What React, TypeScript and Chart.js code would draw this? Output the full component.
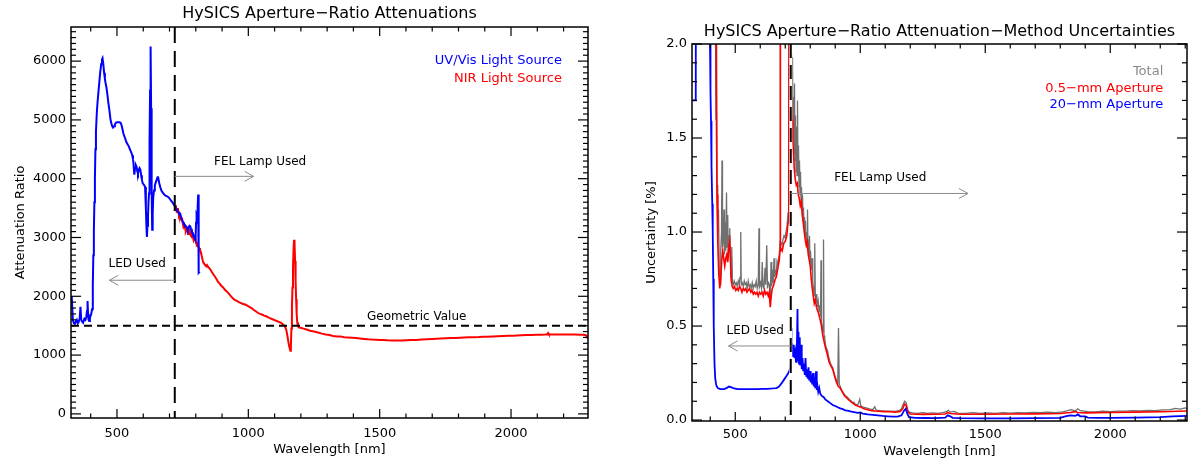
import React, { useEffect, useRef } from "react";
import { Chart, registerables } from "chart.js";
Chart.register(...registerables);

const FONT = '"DejaVu Sans", "Liberation Sans", sans-serif';

// ---------- tick labels ----------
const leftXTicks = [500, 1000, 1500, 2000];
const leftYTicks = [0, 1000, 2000, 3000, 4000, 5000, 6000];
const rightXTicks = [500, 1000, 1500, 2000];
const rightYTicks = [0, 0.5, 1.0, 1.5, 2.0];
const rightYTickLabels = ["0.0", "0.5", "1.0", "1.5", "2.0"];

// ---------- left chart: attenuation ratio [wavelength nm, ratio] ----------
const uvVisSource: [number, number][] = [
  [325, 2000], [328, 1980], [332, 1600], [336, 1540], [340, 1530], [344, 1580], [347, 1600], [351, 1540],
  [354, 1560], [358, 1620], [361, 1820], [364, 1600], [367, 1570], [371, 1550], [376, 1620], [380, 1600],
  [383, 1640], [386, 1750], [388, 1920], [390, 1700], [392, 1600], [394, 1580], [397, 1630], [399, 1660],
  [402, 1700], [405, 1780], [408, 2200], [410, 2700], [412, 3100], [414, 3600], [416, 4000], [418, 4500],
  [420, 4800], [423, 5100], [426, 5300], [429, 5450], [432, 5600], [436, 5800], [440, 5950], [443, 6030],
  [445, 6050], [448, 5950], [451, 5800], [454, 5700], [456, 5640], [460, 5550], [463, 5450], [467, 5300],
  [471, 5170], [475, 5020], [478, 4950], [482, 4890], [485, 4870], [489, 4890], [492, 4920], [496, 4950],
  [500, 4960], [504, 4960], [509, 4960], [514, 4950], [518, 4900], [522, 4820], [525, 4760], [530, 4700],
  [536, 4620], [541, 4580], [545, 4550], [551, 4480], [555, 4440], [558, 4400], [561, 4330], [563, 4250],
  [566, 4070], [569, 4180], [572, 4230], [575, 4200], [577, 4130], [580, 4090], [583, 4150], [586, 4180],
  [589, 4150], [592, 4060], [595, 3980], [598, 3920], [602, 3900], [605, 3880], [607, 3860], [610, 3500],
  [612, 3200], [614, 3010], [616, 3200], [618, 3350], [620, 3600], [622, 3750], [624, 4600], [626, 5500],
  [628, 6250], [630, 5200], [632, 3800], [634, 3130], [636, 3400], [638, 3680], [641, 3800], [644, 3880],
  [647, 3930], [651, 3980], [654, 4020], [656, 4040], [659, 3970], [662, 3900], [666, 3840], [670, 3790],
  [675, 3760], [680, 3730], [685, 3710], [691, 3700], [697, 3680], [702, 3650], [707, 3620], [711, 3600],
  [716, 3560], [720, 3530], [724, 3500], [729, 3460], [734, 3430], [738, 3390], [741, 3400], [745, 3330],
  [748, 3290], [752, 3260], [755, 3230], [759, 3210], [763, 3190], [767, 3160], [770, 3130], [773, 3170],
  [776, 3200], [779, 3190], [782, 3140], [785, 3100], [789, 3070], [792, 3030], [795, 3000], [799, 2960],
  [801, 3250], [803, 3400], [805, 3380], [807, 3500], [809, 3730], [810, 3300], [811, 2800], [812, 2400],
  [815, 2420],
];

const nirSource: [number, number][] = [
  [720, 3470], [722, 3520], [724, 3550], [726, 3480], [728, 3420], [730, 3480], [732, 3500], [734, 3420],
  [736, 3380], [738, 3400], [741, 3330], [744, 3300], [747, 3340], [750, 3250], [753, 3180], [756, 3210],
  [759, 3170], [762, 3100], [765, 3130], [768, 3150], [771, 3060], [774, 3090], [777, 3120], [780, 3040],
  [783, 3020], [786, 3080], [789, 3010], [792, 2950], [795, 2980], [798, 2990], [801, 2900], [804, 2880],
  [807, 2900], [810, 2840], [813, 2820], [816, 2780], [819, 2760], [822, 2700], [825, 2640], [828, 2580],
  [831, 2560], [834, 2540], [837, 2530], [840, 2510], [843, 2530], [847, 2500], [851, 2480], [855, 2460],
  [860, 2420], [866, 2380], [872, 2340], [878, 2300], [884, 2250], [890, 2220], [897, 2180], [904, 2150],
  [911, 2110], [918, 2080], [925, 2050], [932, 2010], [940, 1970], [948, 1940], [956, 1920], [964, 1900],
  [972, 1885], [980, 1870], [988, 1860], [996, 1840], [1004, 1820], [1012, 1800], [1020, 1770], [1028, 1745],
  [1036, 1720], [1044, 1700], [1052, 1690], [1060, 1670], [1068, 1660], [1076, 1640], [1084, 1625], [1092, 1610],
  [1100, 1595], [1108, 1580], [1116, 1565], [1124, 1550], [1130, 1530], [1136, 1505], [1141, 1470], [1145, 1420],
  [1149, 1320], [1153, 1210], [1157, 1120], [1160, 1075], [1162, 1150], [1164, 1450], [1166, 1800], [1168, 2150],
  [1170, 2500], [1172, 2780], [1174, 2960], [1176, 2900], [1178, 2600], [1180, 2250], [1182, 1950], [1184, 1700],
  [1186, 1560], [1189, 1490], [1193, 1470], [1200, 1465], [1210, 1450], [1222, 1435], [1235, 1415], [1250, 1400],
  [1265, 1385], [1280, 1365], [1295, 1350], [1309, 1340], [1323, 1325], [1338, 1315], [1350, 1318], [1365, 1305],
  [1380, 1300], [1396, 1296], [1410, 1290], [1425, 1283], [1440, 1275], [1455, 1268], [1470, 1264], [1485, 1262],
  [1500, 1258], [1513, 1256], [1530, 1252], [1550, 1250], [1570, 1249], [1586, 1250], [1600, 1252], [1620, 1255],
  [1640, 1258], [1659, 1264], [1680, 1270], [1700, 1274], [1716, 1278], [1732, 1282], [1750, 1285], [1770, 1290],
  [1790, 1292], [1805, 1296], [1820, 1298], [1840, 1302], [1860, 1304], [1878, 1306], [1895, 1310], [1910, 1312],
  [1930, 1316], [1950, 1320], [1970, 1324], [1990, 1328], [2008, 1330], [2023, 1334], [2040, 1338], [2060, 1340],
  [2078, 1342], [2096, 1345], [2115, 1348], [2130, 1350], [2138, 1352], [2141, 1375], [2144, 1352], [2160, 1350],
  [2180, 1352], [2200, 1352], [2220, 1350], [2242, 1350], [2260, 1348], [2275, 1345], [2285, 1338], [2289, 1310],
  [2293, 1280],
];

// ---------- right chart: uncertainties [wavelength nm, %] ----------
const totalUnc: [number, number][] = [
  [327, 6], [416, 6], [419, 3], [421, 2.1], [423, 1.6], [425, 2.4], [427, 1.25], [430, 1.0], [433, 1.12],
  [436, 0.8], [439, 0.72], [442, 0.9], [445, 1.0], [447, 1.38], [449, 0.92], [452, 0.95], [455, 1.12],
  [457, 0.88], [460, 1.05], [462, 0.9], [465, 1.21], [467, 0.92], [470, 1.09], [472, 0.86], [475, 0.98],
  [478, 1.02], [480, 0.9], [483, 0.76], [486, 0.92], [489, 0.73], [492, 0.72], [496, 0.74], [500, 0.72],
  [504, 0.73], [508, 0.71], [512, 0.74], [516, 0.72], [519, 0.76], [522, 1.0], [524, 0.72], [528, 0.73],
  [532, 0.71], [536, 0.74], [540, 0.72], [544, 0.73], [548, 0.7], [552, 0.74], [556, 0.71], [560, 0.72],
  [564, 0.7], [568, 0.73], [572, 0.7], [576, 0.72], [580, 0.71], [584, 0.74], [588, 0.7], [592, 0.72],
  [595, 1.02], [597, 0.71], [601, 0.73], [605, 0.7], [608, 0.84], [611, 0.71], [615, 0.7], [619, 0.81],
  [622, 0.72], [626, 0.93], [629, 0.7], [633, 0.73], [637, 0.72], [640, 0.62], [643, 0.84], [646, 0.71],
  [649, 0.8], [652, 0.73], [655, 0.86], [658, 0.76], [661, 0.79], [664, 0.78], [667, 0.84], [670, 0.82],
  [673, 0.86], [676, 0.88], [679, 0.95], [680, 2.6], [681, 0.95], [687, 0.93], [691, 0.96], [695, 0.98],
  [699, 0.97], [703, 1.0], [707, 1.03], [711, 1.1], [714, 1.4], [716, 2.6], [719, 2.6], [721, 2.0],
  [723, 1.8], [725, 1.95], [727, 1.65], [729, 1.93], [731, 1.5], [733, 1.72], [735, 1.42], [737, 1.79],
  [739, 1.38], [741, 1.62], [743, 1.32], [745, 1.56], [747, 1.3], [749, 1.7], [751, 1.3], [753, 1.46],
  [755, 1.24], [757, 1.38], [759, 1.2], [761, 1.32], [763, 1.16], [765, 1.24], [767, 1.12], [769, 1.2],
  [771, 1.06], [773, 1.13], [775, 1.02], [777, 1.08], [779, 0.98], [781, 1.06], [783, 0.95], [785, 1.0],
  [787, 0.92], [789, 1.12], [791, 0.9], [793, 0.96], [795, 0.87], [797, 0.98], [799, 0.84], [801, 0.9],
  [804, 0.8], [807, 0.86], [810, 0.74], [813, 0.7], [816, 0.66], [818, 0.94], [820, 0.68], [823, 0.63],
  [826, 0.67], [829, 0.6], [832, 0.63], [835, 0.58], [838, 0.61], [841, 0.55], [843, 0.85], [845, 0.52],
  [848, 0.5], [851, 0.47], [853, 0.96], [855, 0.45], [858, 0.43], [861, 0.4], [865, 0.38], [869, 0.37],
  [873, 0.34], [877, 0.32], [881, 0.3], [885, 0.29], [890, 0.28], [895, 0.25], [900, 0.23], [905, 0.21],
  [910, 0.2], [913, 0.49], [916, 0.19], [920, 0.18], [925, 0.16], [930, 0.15], [935, 0.14], [940, 0.13],
  [945, 0.125], [950, 0.12], [955, 0.11], [960, 0.105], [965, 0.1], [970, 0.09], [975, 0.095], [980, 0.085],
  [990, 0.08], [998, 0.11], [1002, 0.075], [1010, 0.07], [1020, 0.066], [1030, 0.062], [1040, 0.058],
  [1050, 0.055], [1058, 0.07], [1064, 0.053], [1080, 0.05], [1100, 0.048], [1120, 0.047], [1140, 0.046],
  [1155, 0.05], [1165, 0.06], [1172, 0.085], [1178, 0.1], [1184, 0.09], [1190, 0.055], [1196, 0.042],
  [1210, 0.038], [1230, 0.036], [1250, 0.04], [1270, 0.035], [1290, 0.038], [1310, 0.036], [1330, 0.04],
  [1345, 0.045], [1352, 0.052], [1360, 0.042], [1375, 0.046], [1390, 0.037], [1420, 0.036], [1450, 0.039],
  [1480, 0.035], [1510, 0.038], [1540, 0.036], [1570, 0.039], [1600, 0.037], [1630, 0.04], [1660, 0.038],
  [1690, 0.041], [1720, 0.039], [1750, 0.042], [1780, 0.04], [1810, 0.044], [1830, 0.05], [1845, 0.055],
  [1860, 0.048], [1870, 0.06], [1880, 0.05], [1895, 0.047], [1910, 0.045], [1940, 0.044], [1970, 0.047],
  [2000, 0.045], [2030, 0.048], [2060, 0.047], [2090, 0.05], [2120, 0.049], [2150, 0.052], [2180, 0.05],
  [2210, 0.054], [2240, 0.055], [2260, 0.062], [2280, 0.058], [2300, 0.065], [2307, 0.06],
];

const smallApertureUnc: [number, number][] = [
  [327, 6], [418, 6], [422, 3], [424, 1.75], [427, 1.2], [430, 0.95], [434, 0.78], [438, 0.7], [442, 0.75],
  [446, 0.85], [450, 0.9], [454, 0.86], [458, 0.82], [462, 0.86], [466, 0.88], [470, 0.84], [474, 0.92],
  [478, 0.95], [481, 0.84], [484, 0.74], [488, 0.71], [492, 0.7], [497, 0.71], [502, 0.69], [507, 0.7],
  [512, 0.69], [517, 0.71], [522, 0.7], [527, 0.68], [532, 0.7], [537, 0.69], [542, 0.7], [547, 0.68],
  [552, 0.69], [557, 0.7], [562, 0.68], [567, 0.69], [572, 0.67], [577, 0.68], [582, 0.67], [587, 0.68],
  [592, 0.66], [597, 0.68], [602, 0.67], [607, 0.68], [612, 0.66], [617, 0.69], [622, 0.67], [627, 0.68],
  [632, 0.66], [636, 0.68], [640, 0.6], [644, 0.66], [648, 0.7], [652, 0.71], [656, 0.73], [660, 0.75],
  [664, 0.76], [668, 0.79], [672, 0.82], [676, 0.85], [679, 0.9], [680, 2.6], [681, 0.92], [688, 0.9],
  [694, 0.94], [700, 0.95], [706, 0.98], [711, 1.05], [714, 1.3], [716, 2.6], [719, 2.6], [721, 1.8],
  [724, 1.72], [727, 1.6], [730, 1.5], [733, 1.42], [736, 1.34], [740, 1.28], [744, 1.25], [748, 1.26],
  [752, 1.2], [756, 1.18], [760, 1.14], [764, 1.16], [768, 1.09], [772, 1.05], [776, 1.0], [780, 0.96],
  [784, 0.93], [788, 0.95], [792, 0.88], [796, 0.85], [800, 0.82], [804, 0.75], [808, 0.7], [812, 0.66],
  [816, 0.62], [820, 0.64], [825, 0.6], [830, 0.58], [835, 0.56], [840, 0.53], [845, 0.5], [850, 0.45],
  [855, 0.42], [860, 0.39], [868, 0.35], [875, 0.31], [882, 0.29], [890, 0.27], [898, 0.23], [905, 0.2],
  [912, 0.18], [920, 0.17], [928, 0.15], [936, 0.13], [944, 0.12], [952, 0.11], [960, 0.1], [970, 0.09],
  [980, 0.08], [990, 0.075], [1000, 0.07], [1015, 0.06], [1030, 0.055], [1045, 0.05], [1060, 0.048],
  [1080, 0.046], [1100, 0.045], [1120, 0.044], [1140, 0.042], [1160, 0.045], [1170, 0.06], [1177, 0.085],
  [1183, 0.08], [1190, 0.045], [1200, 0.032], [1250, 0.03], [1300, 0.031], [1340, 0.032], [1350, 0.04],
  [1360, 0.035], [1400, 0.031], [1500, 0.031], [1600, 0.032], [1700, 0.033], [1800, 0.035], [1840, 0.04],
  [1860, 0.045], [1870, 0.04], [1900, 0.038], [2000, 0.04], [2100, 0.042], [2200, 0.044], [2307, 0.048],
];

const largeApertureUnc: [number, number][] = [
  [327, 1.7], [342, 1.7], [343, 3], [397, 3], [399, 2.0], [401, 1.74], [403, 1.59], [405, 1.35], [408, 1.15],
  [410, 1.0], [412, 0.75], [414, 0.5], [417, 0.3], [420, 0.22], [424, 0.185], [430, 0.17], [440, 0.165],
  [455, 0.165], [465, 0.17], [475, 0.178], [485, 0.174], [495, 0.168], [510, 0.165], [530, 0.164],
  [550, 0.164], [570, 0.165], [590, 0.165], [610, 0.166], [630, 0.166], [650, 0.168], [665, 0.17],
  [675, 0.178], [685, 0.195], [695, 0.215], [703, 0.23], [710, 0.245], [716, 0.26], [720, 0.28], [722, 0.45],
  [723, 0.49], [725, 0.36], [728, 0.38], [731, 0.34], [734, 0.4], [737, 0.33], [740, 0.36], [743, 0.31],
  [746, 0.35], [749, 0.59], [751, 0.32], [753, 0.47], [755, 0.3], [758, 0.44], [760, 0.29], [763, 0.4],
  [766, 0.27], [769, 0.33], [772, 0.26], [775, 0.3], [778, 0.24], [781, 0.33], [784, 0.23], [787, 0.27],
  [790, 0.22], [793, 0.28], [796, 0.21], [799, 0.26], [802, 0.2], [805, 0.24], [808, 0.19], [811, 0.25],
  [814, 0.18], [817, 0.2], [820, 0.17], [823, 0.26], [826, 0.16], [829, 0.18], [832, 0.15], [836, 0.17],
  [840, 0.14], [845, 0.13], [850, 0.125], [855, 0.12], [860, 0.11], [870, 0.1], [880, 0.09], [890, 0.08],
  [900, 0.075], [910, 0.068], [920, 0.062], [930, 0.058], [940, 0.052], [950, 0.05], [960, 0.046],
  [975, 0.042], [990, 0.038], [1000, 0.04], [1010, 0.034], [1030, 0.03], [1050, 0.028], [1070, 0.025],
  [1090, 0.022], [1110, 0.02], [1130, 0.018], [1150, 0.018], [1165, 0.025], [1175, 0.05], [1182, 0.06],
  [1188, 0.035], [1195, 0.015], [1220, 0.012], [1260, 0.011], [1300, 0.01], [1340, 0.013], [1350, 0.025],
  [1360, 0.02], [1370, 0.012], [1400, 0.01], [1500, 0.009], [1600, 0.009], [1700, 0.01], [1800, 0.012],
  [1820, 0.02], [1840, 0.025], [1860, 0.022], [1870, 0.03], [1880, 0.02], [1900, 0.02], [1910, 0.013],
  [1950, 0.012], [2000, 0.012], [2100, 0.013], [2200, 0.016], [2250, 0.02], [2307, 0.022],
];

// ---------- drawing helpers ----------
type TextItem = { x: number; y: number; text: string; color?: string; align?: CanvasTextAlign; size?: number };
type Arrow = { x1: number; x2: number; y: number };
type RefLine = { v: number; dash: number[]; width: number; underlay?: boolean };

type FrameCfg = {
  title: string;
  titleOffset: number;
  xTitle: string;
  yTitle: string;
  xTicks: number[];
  xTickLabels: string[];
  yTicks: number[];
  yTickLabels: string[];
  xMajor: number;
  xMinor: number;
  yMajor: number;
  yMinor: number;
  xLabelOffset: number;
  xTitleOffset: number;
  yTitleOffset: number;
  vLines: RefLine[];
  hLines: RefLine[];
  arrows: Arrow[];
  texts: TextItem[];
};

function makeFramePlugin(cfg: FrameCfg) {
  return {
    id: "idlFrame",
    afterDatasetsDraw(chart: any) {
      const { ctx, chartArea: a } = chart;
      const xs = chart.scales.x;
      const ys = chart.scales.y;
      const X = (v: number) => xs.getPixelForValue(v);
      const Y = (v: number) => ys.getPixelForValue(v);
      const seg = (x1: number, y1: number, x2: number, y2: number) => {
        ctx.beginPath();
        ctx.moveTo(x1, y1);
        ctx.lineTo(x2, y2);
        ctx.stroke();
      };
      ctx.save();

      // reference dashed lines
      for (const l of cfg.vLines) {
        const px = X(l.v);
        if (l.underlay) {
          ctx.setLineDash([]);
          ctx.strokeStyle = "#ffffff";
          ctx.lineWidth = l.width + 1;
          seg(px, a.top, px, a.bottom);
        }
        ctx.setLineDash(l.dash);
        ctx.strokeStyle = "#000000";
        ctx.lineWidth = l.width;
        seg(px, a.top, px, a.bottom);
      }
      for (const l of cfg.hLines) {
        const py = Y(l.v);
        ctx.setLineDash(l.dash);
        ctx.strokeStyle = "#000000";
        ctx.lineWidth = l.width;
        seg(a.left, py, a.right, py);
      }
      ctx.setLineDash([]);

      // arrows
      ctx.strokeStyle = "#8a8a8a";
      ctx.lineWidth = 1;
      for (const ar of cfg.arrows) {
        const p1 = X(ar.x1);
        const p2 = X(ar.x2);
        const py = Y(ar.y);
        seg(p1, py, p2, py);
        const d = p2 > p1 ? 1 : -1;
        ctx.beginPath();
        ctx.moveTo(p2 - d * 9, py - 5);
        ctx.lineTo(p2, py);
        ctx.lineTo(p2 - d * 9, py + 5);
        ctx.stroke();
      }

      // annotation texts / legend
      ctx.textBaseline = "middle";
      for (const t of cfg.texts) {
        ctx.font = `${t.size ?? 12}px ${FONT}`;
        ctx.fillStyle = t.color ?? "#000000";
        ctx.textAlign = t.align ?? "center";
        ctx.fillText(t.text, X(t.x), Y(t.y));
      }

      // frame
      ctx.strokeStyle = "#000000";
      ctx.lineWidth = 1.5;
      ctx.strokeRect(a.left, a.top, a.right - a.left, a.bottom - a.top);

      // ticks (inward on all four sides)
      ctx.lineWidth = 1.2;
      const isMajor = (v: number, m: number) => Math.abs(v / m - Math.round(v / m)) < 1e-6;
      const xStart = Math.ceil(xs.min / cfg.xMinor - 1e-9) * cfg.xMinor;
      for (let i = 0; ; i++) {
        const v = xStart + i * cfg.xMinor;
        if (v > xs.max + 1e-9) break;
        const px = X(v);
        const len = isMajor(v, cfg.xMajor) ? 9 : 4.5;
        seg(px, a.bottom, px, a.bottom - len);
        seg(px, a.top, px, a.top + len);
      }
      const yStart = Math.ceil(ys.min / cfg.yMinor - 1e-9) * cfg.yMinor;
      for (let i = 0; ; i++) {
        const v = yStart + i * cfg.yMinor;
        if (v > ys.max + 1e-9) break;
        const py = Y(v);
        const len = isMajor(v, cfg.yMajor) ? 10 : 5;
        seg(a.left, py, a.left + len, py);
        seg(a.right, py, a.right - len, py);
      }

      // tick labels
      ctx.fillStyle = "#000000";
      ctx.font = `13px ${FONT}`;
      ctx.textAlign = "center";
      ctx.textBaseline = "middle";
      cfg.xTicks.forEach((v, i) => ctx.fillText(cfg.xTickLabels[i], X(v), a.bottom + cfg.xLabelOffset));
      ctx.textAlign = "right";
      cfg.yTicks.forEach((v, i) => ctx.fillText(cfg.yTickLabels[i], a.left - 5, Y(v)));

      // axis titles
      ctx.textAlign = "center";
      ctx.fillText(cfg.xTitle, (a.left + a.right) / 2, a.bottom + cfg.xTitleOffset);
      ctx.save();
      ctx.translate(a.left - cfg.yTitleOffset, (a.top + a.bottom) / 2);
      ctx.rotate(-Math.PI / 2);
      ctx.fillText(cfg.yTitle, 0, 0);
      ctx.restore();

      // chart title
      ctx.font = `16px ${FONT}`;
      ctx.fillText(cfg.title, (a.left + a.right) / 2, a.top - cfg.titleOffset);

      ctx.restore();
    },
  };
}

function series(points: [number, number][], color: string, width: number, label: string) {
  return {
    label,
    data: points.map(([x, y]) => ({ x, y })),
    borderColor: color,
    backgroundColor: color,
    borderWidth: width,
    pointRadius: 0,
    tension: 0,
    fill: false,
    clip: 0,
  };
}

function useChart(ref: React.RefObject<HTMLCanvasElement>, build: () => any) {
  useEffect(() => {
    if (!ref.current) return;
    const chart = new Chart(ref.current, build());
    return () => chart.destroy();
  }, []);
}

const BLUE = "#0000ff";
const RED = "#ff0000";
const GRAY = "#707070";

function leftConfig() {
  return {
    type: "line",
    data: {
      datasets: [
        series(uvVisSource, BLUE, 2, "UV/Vis Light Source"),
        series(nirSource, RED, 2, "NIR Light Source"),
      ],
    },
    options: {
      responsive: false,
      animation: false,
      events: [],
      layout: { padding: { left: 71, right: 12, top: 27, bottom: 46 } },
      plugins: { legend: { display: false }, tooltip: { enabled: false }, title: { display: false } },
      scales: {
        x: { type: "linear", min: 325, max: 2293, display: false },
        y: { type: "linear", min: -70, max: 6580, display: false },
      },
    },
    plugins: [
      makeFramePlugin({
        title: "HySICS Aperture\u2212Ratio Attenuations",
        titleOffset: 13,
        xTitle: "Wavelength [nm]",
        yTitle: "Attenuation Ratio",
        xTicks: leftXTicks,
        xTickLabels: leftXTicks.map(String),
        yTicks: leftYTicks,
        yTickLabels: leftYTicks.map(String),
        xMajor: 500,
        xMinor: 100,
        yMajor: 1000,
        yMinor: 100,
        xLabelOffset: 16,
        xTitleOffset: 32,
        yTitleOffset: 50,
        vLines: [{ v: 720, dash: [16, 8], width: 2 }],
        hLines: [{ v: 1500, dash: [8, 5], width: 2 }],
        arrows: [
          { x1: 720, x2: 1020, y: 4040 },
          { x1: 720, x2: 471, y: 2273 },
        ],
        texts: [
          { x: 1045, y: 4287, text: "FEL Lamp Used" },
          { x: 577, y: 2545, text: "LED Used" },
          { x: 1641, y: 1648, text: "Geometric Value" },
          { x: 2194, y: 6000, text: "UV/Vis Light Source", color: BLUE, align: "right", size: 13 },
          { x: 2194, y: 5700, text: "NIR Light Source", color: RED, align: "right", size: 13 },
        ],
      }),
    ],
  };
}

function rightConfig() {
  return {
    type: "line",
    data: {
      datasets: [
        series(largeApertureUnc, BLUE, 1.8, "20-mm Aperture"),
        series(smallApertureUnc, RED, 1.6, "0.5-mm Aperture"),
        series(totalUnc, GRAY, 1.3, "Total"),
      ],
    },
    options: {
      responsive: false,
      animation: false,
      events: [],
      layout: { padding: { left: 92, right: 1, top: 44, bottom: 43 } },
      plugins: { legend: { display: false }, tooltip: { enabled: false }, title: { display: false } },
      scales: {
        x: { type: "linear", min: 327, max: 2307, display: false },
        y: { type: "linear", min: -0.005, max: 2.0, display: false },
      },
    },
    plugins: [
      makeFramePlugin({
        title: "HySICS Aperture\u2212Ratio Attenuation\u2212Method Uncertainties",
        titleOffset: 12,
        xTitle: "Wavelength [nm]",
        yTitle: "Uncertainty [%]",
        xTicks: rightXTicks,
        xTickLabels: rightXTicks.map(String),
        yTicks: rightYTicks,
        yTickLabels: rightYTickLabels,
        xMajor: 500,
        xMinor: 100,
        yMajor: 0.5,
        yMinor: 0.1,
        xLabelOffset: 14,
        xTitleOffset: 31,
        yTitleOffset: 40,
        vLines: [{ v: 722, dash: [14, 7], width: 2, underlay: true }],
        hLines: [],
        arrows: [
          { x1: 722, x2: 1431, y: 1.205 },
          { x1: 722, x2: 473, y: 0.394 },
        ],
        texts: [
          { x: 1080, y: 1.286, text: "FEL Lamp Used" },
          { x: 580, y: 0.473, text: "LED Used" },
          { x: 2212, y: 1.854, text: "Total", color: "#8a8a8a", align: "right", size: 13 },
          { x: 2212, y: 1.764, text: "0.5\u2212mm Aperture", color: RED, align: "right", size: 13 },
          { x: 2212, y: 1.675, text: "20\u2212mm Aperture", color: BLUE, align: "right", size: 13 },
        ],
      }),
    ],
  };
}

export default function App() {
  const leftRef = useRef<HTMLCanvasElement>(null);
  const rightRef = useRef<HTMLCanvasElement>(null);
  useChart(leftRef, leftConfig);
  useChart(rightRef, rightConfig);
  return (
    <div
      style={{
        position: "absolute",
        left: 0,
        top: 0,
        width: 1188,
        height: 464,
        background: "#ffffff",
        overflow: "hidden",
      }}
    >
      <canvas ref={leftRef} width={600} height={464} style={{ position: "absolute", left: 0, top: 0 }} />
      <canvas ref={rightRef} width={588} height={464} style={{ position: "absolute", left: 600, top: 0 }} />
    </div>
  );
}
